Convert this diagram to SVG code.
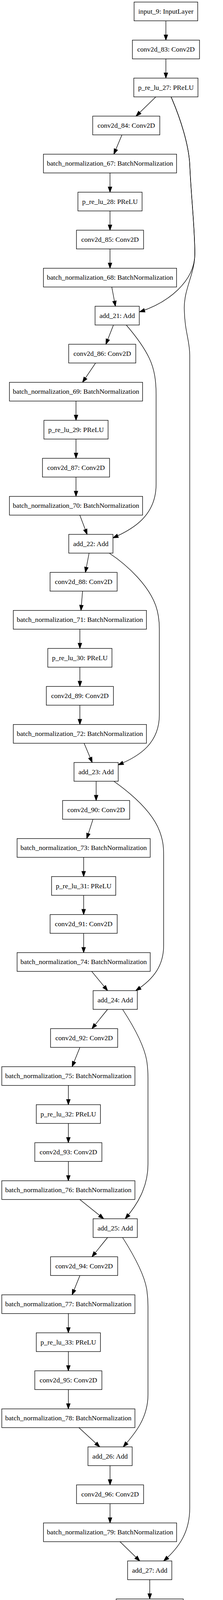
<svg xmlns="http://www.w3.org/2000/svg" width="570" height="4829" viewBox="0 0 570 4829">
<style>
.n rect{fill:#fff;stroke:#000;stroke-width:1.33}
.n text{font-family:"Liberation Serif","Times New Roman",serif;font-size:17.6px;text-anchor:middle;fill:#000}
#edges path{fill:none;stroke:#000;stroke-width:1.33;marker-end:url(#ah)}
</style>
<defs>
<marker id="ah" markerUnits="userSpaceOnUse" markerWidth="16" markerHeight="12" refX="13.33" refY="4.67" orient="auto" overflow="visible">
<path d="M0,0 L13.33,4.67 L0,9.33 z" fill="#000" stroke="#000" stroke-width="1.33"/>
</marker>
</defs>
<rect width="570" height="4829" fill="#fff"/>
<g id="edges">
<path d="M424,53.33 L424,102.67"/>
<path d="M424,150.67 L424,200"/>
<path d="M398.3,248 L347.7,297.33"/>
<path d="M311.7,345.33 L291,394.67"/>
<path d="M281.2,442.67 L281.2,492"/>
<path d="M281.2,540 L281.2,589.33"/>
<path d="M281.2,637.33 L281.2,686.67"/>
<path d="M285.7,734.67 L295,784"/>
<path d="M290,832 L270.7,881.33"/>
<path d="M244.3,929.33 L211,978.67"/>
<path d="M194.3,1026.67 L194.3,1076"/>
<path d="M194.3,1124 L194.3,1173.33"/>
<path d="M194.3,1221.33 L194.3,1270.67"/>
<path d="M204,1318.67 L222.7,1368"/>
<path d="M227.7,1416 L218.3,1465.33"/>
<path d="M211,1513.33 L207,1562.67"/>
<path d="M204.2,1610.67 L204.2,1660"/>
<path d="M204.2,1708 L204.2,1757.33"/>
<path d="M204.2,1805.33 L204.2,1854.67"/>
<path d="M215,1902.67 L235.7,1952"/>
<path d="M245.7,2000 L245.7,2049.33"/>
<path d="M237.7,2097.33 L221.7,2146.67"/>
<path d="M213.8,2194.67 L213.8,2244"/>
<path d="M213.8,2292 L213.8,2341.33"/>
<path d="M213.8,2389.33 L213.8,2438.67"/>
<path d="M234.3,2486.67 L275,2536"/>
<path d="M275,2584 L235,2633.33"/>
<path d="M204.3,2681.33 L184.3,2730.67"/>
<path d="M174.7,2778.67 L174.7,2828"/>
<path d="M174.7,2876 L174.7,2925.33"/>
<path d="M174.7,2973.33 L174.7,3022.67"/>
<path d="M204,3070.67 L265,3120"/>
<path d="M275,3168 L235,3217.33"/>
<path d="M204.3,3265.33 L184.3,3314.67"/>
<path d="M174.7,3362.67 L174.7,3412"/>
<path d="M174.7,3460 L174.7,3509.33"/>
<path d="M174.7,3557.33 L174.7,3606.67"/>
<path d="M201.7,3654.67 L255,3704"/>
<path d="M281.3,3752 L281.3,3801.33"/>
<path d="M281.3,3849.33 L281.3,3898.67"/>
<path d="M306.7,3946.67 L357.3,3996"/>
<path d="M382.7,4044 L382.7,4093.33"/>
<path d="M382.7,4141.33 L382.7,4190.67"/>
<path d="M382.7,4238.67 L382.7,4288"/>
<path d="M382.7,4336 L382.7,4385.33"/>
<path d="M382.7,4433.33 L382.7,4482.67"/>
<path d="M382.7,4530.67 L382.7,4580"/>
<path d="M382.7,4628 L382.7,4677.33"/>
<path d="M382.7,4725.33 L382.7,4774.67"/>
<path d="M437.3,248 C462,305 482,370 485,420 C488,500 498,580 498,650 C498,720 430,775 356.7,798.3"/>
<path d="M437.3,248 C462,305 482,370 485,420 C488,500 498,580 498,650 C498,700 470,740 471,790 C472,850 485,870 485,910 L485,3860 C485,3920 460,3960 418.3,3996"/>
<path d="M322.7,832 C345,858 368,888 382,918 C395,946 399,975 399,1010 L399,1240 C399,1320 340,1355 288.7,1377"/>
<path d="M279.3,1416 C330,1450 380,1500 398,1550 C405,1570 407.3,1590 407.3,1610 L407.3,1830 C407.3,1900 360,1935 302,1958"/>
<path d="M291,2000 C340,2035 390,2080 408,2128 C416,2150 418.3,2165 418.3,2190 L418.3,2420 C418.3,2470 395,2505 347,2536"/>
<path d="M313.3,2584 C340,2625 368,2675 375,2715 C378,2735 378.3,2745 378.3,2760 L378.3,2980 C378.3,3040 350,3085 320,3120"/>
<path d="M313.3,3168 C340,3210 368,3260 375,3300 C378,3320 378.3,3330 378.3,3345 L378.3,3570 C378.3,3630 345,3670 315,3704"/>
</g>
<g id="input_9" class="n"><rect x="342.7" y="5.33" width="162.7" height="48"/><text x="424" y="34.93">input_9: InputLayer</text></g>
<g id="conv2d_83" class="n"><rect x="338.45" y="102.67" width="171.5" height="48"/><text x="424.2" y="132.27">conv2d_83: Conv2D</text></g>
<g id="p_re_lu_27" class="n"><rect x="342" y="200" width="164" height="48"/><text x="424" y="229.6">p_re_lu_27: PReLU</text></g>
<g id="conv2d_84" class="n"><rect x="236.95" y="297.33" width="171.5" height="48"/><text x="322.7" y="326.93">conv2d_84: Conv2D</text></g>
<g id="batch_normalization_67" class="n"><rect x="111.05" y="394.67" width="340.3" height="48"/><text x="281.2" y="424.27">batch_normalization_67: BatchNormalization</text></g>
<g id="p_re_lu_28" class="n"><rect x="199.2" y="492" width="164" height="48"/><text x="281.2" y="521.6">p_re_lu_28: PReLU</text></g>
<g id="conv2d_85" class="n"><rect x="195.45" y="589.33" width="171.5" height="48"/><text x="281.2" y="618.93">conv2d_85: Conv2D</text></g>
<g id="batch_normalization_68" class="n"><rect x="111.05" y="686.67" width="340.3" height="48"/><text x="281.2" y="716.27">batch_normalization_68: BatchNormalization</text></g>
<g id="add_21" class="n"><rect x="243" y="784" width="113" height="48"/><text x="299.5" y="813.6">add_21: Add</text></g>
<g id="conv2d_86" class="n"><rect x="175.55" y="881.33" width="171.5" height="48"/><text x="261.3" y="910.93">conv2d_86: Conv2D</text></g>
<g id="batch_normalization_69" class="n"><rect x="24.15" y="978.67" width="340.3" height="48"/><text x="194.3" y="1008.27">batch_normalization_69: BatchNormalization</text></g>
<g id="p_re_lu_29" class="n"><rect x="112.3" y="1076" width="164" height="48"/><text x="194.3" y="1105.6">p_re_lu_29: PReLU</text></g>
<g id="conv2d_87" class="n"><rect x="108.55" y="1173.33" width="171.5" height="48"/><text x="194.3" y="1202.93">conv2d_87: Conv2D</text></g>
<g id="batch_normalization_70" class="n"><rect x="24.15" y="1270.67" width="340.3" height="48"/><text x="194.3" y="1300.27">batch_normalization_70: BatchNormalization</text></g>
<g id="add_22" class="n"><rect x="175.7" y="1368" width="113" height="48"/><text x="232.2" y="1397.6">add_22: Add</text></g>
<g id="conv2d_88" class="n"><rect x="127.95" y="1465.33" width="171.5" height="48"/><text x="213.7" y="1494.93">conv2d_88: Conv2D</text></g>
<g id="batch_normalization_71" class="n"><rect x="34.05" y="1562.67" width="340.3" height="48"/><text x="204.2" y="1592.27">batch_normalization_71: BatchNormalization</text></g>
<g id="p_re_lu_30" class="n"><rect x="122.2" y="1660" width="164" height="48"/><text x="204.2" y="1689.6">p_re_lu_30: PReLU</text></g>
<g id="conv2d_89" class="n"><rect x="118.45" y="1757.33" width="171.5" height="48"/><text x="204.2" y="1786.93">conv2d_89: Conv2D</text></g>
<g id="batch_normalization_72" class="n"><rect x="34.05" y="1854.67" width="340.3" height="48"/><text x="204.2" y="1884.27">batch_normalization_72: BatchNormalization</text></g>
<g id="add_23" class="n"><rect x="189.2" y="1952" width="113" height="48"/><text x="245.7" y="1981.6">add_23: Add</text></g>
<g id="conv2d_90" class="n"><rect x="159.95" y="2049.33" width="171.5" height="48"/><text x="245.7" y="2078.93">conv2d_90: Conv2D</text></g>
<g id="batch_normalization_73" class="n"><rect x="43.65" y="2146.67" width="340.3" height="48"/><text x="213.8" y="2176.27">batch_normalization_73: BatchNormalization</text></g>
<g id="p_re_lu_31" class="n"><rect x="131.8" y="2244" width="164" height="48"/><text x="213.8" y="2273.6">p_re_lu_31: PReLU</text></g>
<g id="conv2d_91" class="n"><rect x="128.05" y="2341.33" width="171.5" height="48"/><text x="213.8" y="2370.93">conv2d_91: Conv2D</text></g>
<g id="batch_normalization_74" class="n"><rect x="43.65" y="2438.67" width="340.3" height="48"/><text x="213.8" y="2468.27">batch_normalization_74: BatchNormalization</text></g>
<g id="add_24" class="n"><rect x="238" y="2536" width="113" height="48"/><text x="294.5" y="2565.6">add_24: Add</text></g>
<g id="conv2d_92" class="n"><rect x="129.25" y="2633.33" width="171.5" height="48"/><text x="215" y="2662.93">conv2d_92: Conv2D</text></g>
<g id="batch_normalization_75" class="n"><rect x="4.55" y="2730.67" width="340.3" height="48"/><text x="174.7" y="2760.27">batch_normalization_75: BatchNormalization</text></g>
<g id="p_re_lu_32" class="n"><rect x="92.7" y="2828" width="164" height="48"/><text x="174.7" y="2857.6">p_re_lu_32: PReLU</text></g>
<g id="conv2d_93" class="n"><rect x="88.95" y="2925.33" width="171.5" height="48"/><text x="174.7" y="2954.93">conv2d_93: Conv2D</text></g>
<g id="batch_normalization_76" class="n"><rect x="4.55" y="3022.67" width="340.3" height="48"/><text x="174.7" y="3052.27">batch_normalization_76: BatchNormalization</text></g>
<g id="add_25" class="n"><rect x="238" y="3120" width="113" height="48"/><text x="294.5" y="3149.6">add_25: Add</text></g>
<g id="conv2d_94" class="n"><rect x="129.25" y="3217.33" width="171.5" height="48"/><text x="215" y="3246.93">conv2d_94: Conv2D</text></g>
<g id="batch_normalization_77" class="n"><rect x="4.55" y="3314.67" width="340.3" height="48"/><text x="174.7" y="3344.27">batch_normalization_77: BatchNormalization</text></g>
<g id="p_re_lu_33" class="n"><rect x="92.7" y="3412" width="164" height="48"/><text x="174.7" y="3441.6">p_re_lu_33: PReLU</text></g>
<g id="conv2d_95" class="n"><rect x="88.95" y="3509.33" width="171.5" height="48"/><text x="174.7" y="3538.93">conv2d_95: Conv2D</text></g>
<g id="batch_normalization_78" class="n"><rect x="4.55" y="3606.67" width="340.3" height="48"/><text x="174.7" y="3636.27">batch_normalization_78: BatchNormalization</text></g>
<g id="add_26" class="n"><rect x="224.8" y="3704" width="113" height="48"/><text x="281.3" y="3733.6">add_26: Add</text></g>
<g id="conv2d_96" class="n"><rect x="195.55" y="3801.33" width="171.5" height="48"/><text x="281.3" y="3830.93">conv2d_96: Conv2D</text></g>
<g id="batch_normalization_79" class="n"><rect x="111.15" y="3898.67" width="340.3" height="48"/><text x="281.3" y="3928.27">batch_normalization_79: BatchNormalization</text></g>
<g id="add_27" class="n"><rect x="326.2" y="3996" width="113" height="48"/><text x="382.7" y="4025.6">add_27: Add</text></g>
<g id="conv2d_97" class="n"><rect x="296.95" y="4093.33" width="171.5" height="48"/><text x="382.7" y="4122.93">conv2d_97: Conv2D</text></g>
<g id="up_sampling2d_6" class="n"><rect x="247.05" y="4190.67" width="271.3" height="48"/><text x="382.7" y="4220.27">up_sampling2d_6: UpSampling2D</text></g>
<g id="p_re_lu_34" class="n"><rect x="300.7" y="4288" width="164" height="48"/><text x="382.7" y="4317.6">p_re_lu_34: PReLU</text></g>
<g id="conv2d_98" class="n"><rect x="296.95" y="4385.33" width="171.5" height="48"/><text x="382.7" y="4414.93">conv2d_98: Conv2D</text></g>
<g id="up_sampling2d_7" class="n"><rect x="247.05" y="4482.67" width="271.3" height="48"/><text x="382.7" y="4512.27">up_sampling2d_7: UpSampling2D</text></g>
<g id="p_re_lu_35" class="n"><rect x="300.7" y="4580" width="164" height="48"/><text x="382.7" y="4609.6">p_re_lu_35: PReLU</text></g>
<g id="conv2d_99" class="n"><rect x="296.95" y="4677.33" width="171.5" height="48"/><text x="382.7" y="4706.93">conv2d_99: Conv2D</text></g>
<g id="activation_7" class="n"><rect x="288.35" y="4774.67" width="188.7" height="48"/><text x="382.7" y="4804.27">activation_7: Activation</text></g>
</svg>
